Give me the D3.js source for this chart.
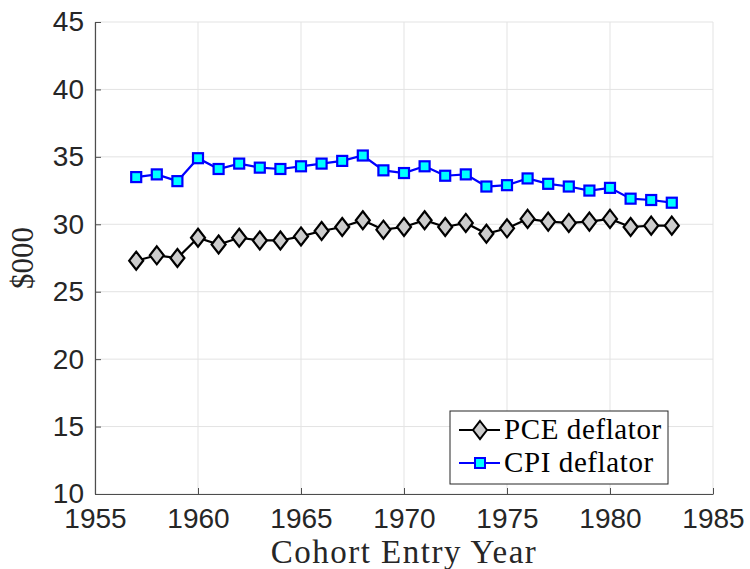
<!DOCTYPE html>
<html>
<head>
<meta charset="utf-8">
<script src="https://cdn.jsdelivr.net/npm/d3@7"></script>
<style>
body { margin: 0; background: #fff; }
svg { display: block; }
</style>
</head>
<body>
<svg id="chart"></svg>
<script>
const years = [1957,1958,1959,1960,1961,1962,1963,1964,1965,1966,1967,1968,1969,1970,
  1971,1972,1973,1974,1975,1976,1977,1978,1979,1980,1981,1982,1983];
const pce = [27.3,27.7,27.5,29.0,28.5,29.0,28.8,28.8,29.1,29.5,29.8,30.3,29.6,29.8,
  30.3,29.8,30.1,29.3,29.7,30.4,30.2,30.1,30.2,30.4,29.8,29.9,29.9];
const cpi = [33.5,33.7,33.2,34.9,34.1,34.5,34.2,34.1,34.3,34.5,34.7,35.1,34.0,33.8,
  34.3,33.6,33.7,32.8,32.9,33.4,33.0,32.8,32.5,32.7,31.9,31.8,31.6];
const xTicks = [1955,1960,1965,1970,1975,1980,1985];
const yTicks = [10,15,20,25,30,35,40,45];
const seriesNames = ["PCE deflator", "CPI deflator"];

const W = 750, H = 569;
const m = {left: 95, right: 37, top: 22, bottom: 75};
const svg = d3.select("#chart").attr("width", W).attr("height", H);

const x = d3.scaleLinear().domain([1955, 1985]).range([m.left, W - m.right]);
const y = d3.scaleLinear().domain([10, 45]).range([H - m.bottom, m.top]);

const tickFont = "'Liberation Sans', Arial, sans-serif";
const serif = "'Liberation Serif', 'DejaVu Serif', serif";

// grid
svg.append("g")
  .selectAll("line.gx")
  .data(xTicks)
  .enter().append("line")
  .attr("x1", d => x(d)).attr("x2", d => x(d))
  .attr("y1", y(10)).attr("y2", y(45))
  .attr("stroke", "#e3e3e3").attr("stroke-width", 1);
svg.append("g")
  .selectAll("line.gy")
  .data(yTicks)
  .enter().append("line")
  .attr("x1", x(1955)).attr("x2", x(1985))
  .attr("y1", d => y(d)).attr("y2", d => y(d))
  .attr("stroke", "#e3e3e3").attr("stroke-width", 1);

// axes
const xAxis = svg.append("g")
  .attr("transform", `translate(0,${y(10)})`)
  .call(d3.axisBottom(x).tickValues(xTicks).tickFormat(d3.format("d")).tickSizeInner(-6).tickSizeOuter(0).tickPadding(10));
const yAxis = svg.append("g")
  .attr("transform", `translate(${x(1955)},0)`)
  .call(d3.axisLeft(y).tickValues(yTicks).tickSizeInner(-6).tickSizeOuter(0).tickPadding(10));
[xAxis, yAxis].forEach(g => {
  g.select(".domain").attr("stroke", "#4d4d4d").attr("stroke-width", 1.2);
  g.selectAll(".tick line").attr("stroke", "#4d4d4d");
  g.selectAll(".tick text").attr("fill", "#262626")
    .style("font-family", tickFont).style("font-size", "28px");
});
xAxis.selectAll(".tick text").attr("dy", "0.71em").attr("y", 14);
yAxis.selectAll(".tick text").attr("x", -11);

// labels
svg.append("text")
  .attr("x", x(1970)).attr("y", 563)
  .attr("text-anchor", "middle")
  .style("font-family", serif).style("font-size", "33px").style("letter-spacing", "1.5px")
  .attr("fill", "#262626")
  .text("Cohort Entry Year");
svg.append("text")
  .attr("transform", `translate(33,${y(27.5)}) rotate(-90)`)
  .attr("text-anchor", "middle")
  .style("font-family", serif).style("font-size", "31px").attr("fill", "#262626")
  .text("$000");

// lines
const line = d3.line().x(d => x(d[0])).y(d => y(d[1]));
const pceData = years.map((yr, i) => [yr, pce[i]]);
const cpiData = years.map((yr, i) => [yr, cpi[i]]);

svg.append("path").datum(pceData).attr("d", line)
  .attr("fill", "none").attr("stroke", "#000").attr("stroke-width", 2.2);
svg.append("path").datum(cpiData).attr("d", line)
  .attr("fill", "none").attr("stroke", "#0000ff").attr("stroke-width", 2.2);

const diamond = "M0,-9L7,0L0,9L-7,0Z";
svg.append("g").selectAll("path")
  .data(pceData).enter().append("path")
  .attr("d", diamond)
  .attr("transform", d => `translate(${x(d[0])},${y(d[1])})`)
  .attr("fill", "#cccccc").attr("stroke", "#000").attr("stroke-width", 2.2);

svg.append("g").selectAll("rect")
  .data(cpiData).enter().append("rect")
  .attr("x", d => x(d[0]) - 5).attr("y", d => y(d[1]) - 5)
  .attr("width", 10).attr("height", 10)
  .attr("fill", "#00ffff").attr("stroke", "#0000ff").attr("stroke-width", 2.2);

// legend
const leg = svg.append("g");
leg.append("rect")
  .attr("x", 450).attr("y", 411).attr("width", 218).attr("height", 73)
  .attr("fill", "#fff").attr("stroke", "#262626").attr("stroke-width", 1);
const rows = [
  {name: seriesNames[0], cy: 430, stroke: "#000", fill: "#cccccc", shape: "d"},
  {name: seriesNames[1], cy: 463, stroke: "#0000ff", fill: "#00ffff", shape: "s"}
];
rows.forEach(r => {
  leg.append("line").attr("x1", 459).attr("x2", 500).attr("y1", r.cy).attr("y2", r.cy)
    .attr("stroke", r.stroke).attr("stroke-width", 2);
  if (r.shape === "d") {
    leg.append("path").attr("d", diamond).attr("transform", `translate(480,${r.cy})`)
      .attr("fill", r.fill).attr("stroke", r.stroke).attr("stroke-width", 2);
  } else {
    leg.append("rect").attr("x", 475).attr("y", r.cy - 5).attr("width", 10).attr("height", 10)
      .attr("fill", r.fill).attr("stroke", r.stroke).attr("stroke-width", 2);
  }
  leg.append("text").attr("x", 504).attr("y", r.cy + 9)
    .style("font-family", serif).style("font-size", "29px").style("letter-spacing", "0.6px")
    .attr("fill", "#000")
    .text(r.name);
});
</script>
</body>
</html>
